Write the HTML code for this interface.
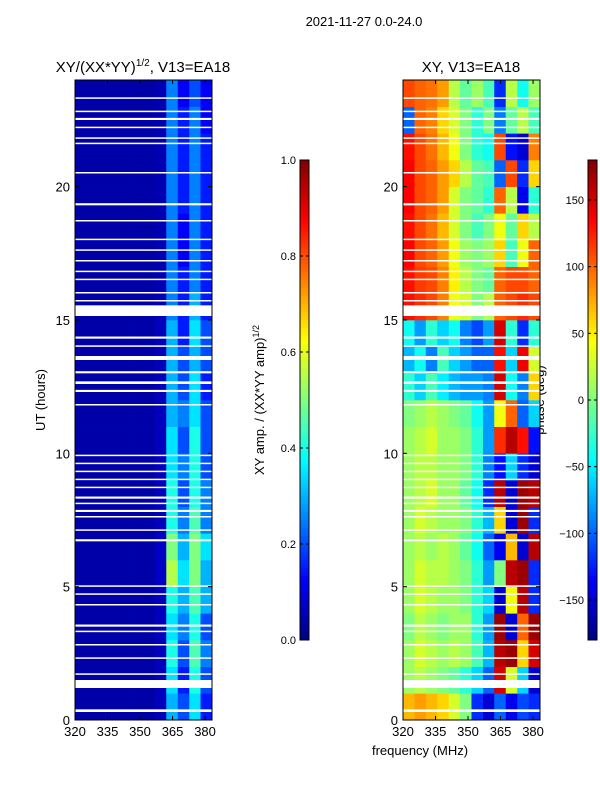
<!DOCTYPE html>
<html><head><meta charset="utf-8"><style>
body{margin:0;background:#fff;}
svg text{font-family:"Liberation Sans",sans-serif;fill:#000;}
</style></head><body>
<svg id="fig" width="600" height="800" xmlns="http://www.w3.org/2000/svg">
<rect width="600" height="800" fill="#fff"/>
<text x="364" y="26" font-size="13" text-anchor="middle">2021-11-27 0.0-24.0</text>
<text x="143" y="72" font-size="15" text-anchor="middle">XY/(XX*YY)<tspan dy="-6" font-size="10">1/2</tspan><tspan dy="6">, V13=EA18</tspan></text>
<text x="471" y="72" font-size="15" text-anchor="middle">XY, V13=EA18</text>
<text x="420" y="755" font-size="13" text-anchor="middle">frequency (MHz)</text>
<text transform="translate(45,400) rotate(-90)" font-size="13" text-anchor="middle">UT (hours)</text>
<text transform="translate(264,400) rotate(-90)" font-size="13" text-anchor="middle">XY amp. / (XX*YY amp)<tspan dy="-5" font-size="9">1/2</tspan></text>
<text transform="translate(544,400) rotate(-90)" font-size="13" text-anchor="middle">phase (deg)</text>
<g id="left"></g>
<g id="right"></g>
<g id="cb"></g>
</svg>
<script>
const freqEdges=[320,325.3,330.5,335.8,341.1,346.3,351.6,356.9,362.1,367.4,372.7,377.9,383.2];
const xTicks=[320,335,350,365,380];
const yTicks=[0,5,10,15,20];
const ampTicks=[0.0,0.2,0.4,0.6,0.8,1.0];
const phaseTicks=[-150,-100,-50,0,50,100,150];
const gaps=[[0.3,0.1],[1.2,0.3],[1.7,0.05],[2.3,0.05],[2.8,0.05],[3.3,0.05],[3.5,0.08],[4.3,0.05],[4.7,0.05],[5.0,0.05],[6.7,0.08],[7.1,0.05],[7.6,0.05],[7.8,0.08],[8.1,0.05],[8.3,0.08],[8.7,0.05],[9.0,0.05],[9.3,0.05],[9.6,0.05],[9.9,0.05],[11.8,0.05],[12.3,0.08],[12.6,0.1],[13.0,0.08],[13.5,0.15],[14.0,0.05],[14.3,0.08],[15.15,0.4],[15.7,0.05],[16.0,0.05],[16.5,0.05],[16.8,0.05],[17.2,0.05],[17.6,0.05],[18.0,0.05],[18.7,0.05],[19.3,0.08],[20.5,0.05],[21.6,0.05],[21.8,0.05],[22.2,0.05],[22.5,0.08],[22.8,0.05],[23.3,0.05]];
const ampRows=[
[0.04,0.04,0.04,0.04,0.04,0.04,0.04,0.06,0.30,0.20,0.35,0.15],
[0.04,0.04,0.04,0.04,0.04,0.04,0.04,0.06,0.35,0.15,0.40,0.20],
[0.04,0.04,0.04,0.04,0.04,0.04,0.04,0.06,0.40,0.20,0.45,0.25],
[0.04,0.04,0.04,0.04,0.04,0.04,0.04,0.06,0.35,0.25,0.40,0.20],
[0.04,0.04,0.04,0.04,0.04,0.04,0.04,0.06,0.40,0.30,0.45,0.30],
[0.04,0.04,0.04,0.04,0.04,0.04,0.04,0.07,0.55,0.35,0.50,0.30],
[0.04,0.04,0.04,0.04,0.04,0.04,0.04,0.07,0.50,0.30,0.50,0.35],
[0.04,0.04,0.04,0.04,0.04,0.04,0.04,0.06,0.40,0.25,0.45,0.25],
[0.04,0.04,0.04,0.04,0.04,0.04,0.04,0.06,0.40,0.20,0.40,0.25],
[0.04,0.04,0.04,0.04,0.04,0.04,0.04,0.06,0.35,0.25,0.40,0.20],
[0.04,0.04,0.04,0.04,0.04,0.04,0.04,0.06,0.35,0.20,0.40,0.20],
[0.04,0.04,0.04,0.04,0.04,0.04,0.04,0.06,0.30,0.25,0.35,0.20],
[0.04,0.04,0.04,0.04,0.04,0.04,0.04,0.06,0.30,0.20,0.35,0.15],
[0.04,0.04,0.04,0.04,0.04,0.04,0.04,0.06,0.30,0.20,0.30,0.20],
[0.04,0.04,0.04,0.04,0.04,0.04,0.04,0.06,0.30,0.15,0.35,0.20],
[0.04,0.04,0.04,0.04,0.04,0.04,0.04,0.06,0.25,0.15,0.30,0.15],
[0.04,0.04,0.04,0.04,0.04,0.04,0.04,0.05,0.25,0.15,0.25,0.15],
[0.04,0.04,0.04,0.04,0.04,0.04,0.04,0.05,0.25,0.12,0.25,0.15],
[0.04,0.04,0.04,0.04,0.04,0.04,0.04,0.05,0.25,0.12,0.25,0.15],
[0.04,0.04,0.04,0.04,0.04,0.04,0.04,0.05,0.25,0.15,0.25,0.15],
[0.04,0.04,0.04,0.04,0.04,0.04,0.04,0.05,0.25,0.15,0.25,0.15],
[0.04,0.04,0.04,0.04,0.04,0.04,0.04,0.05,0.25,0.15,0.25,0.15],
[0.04,0.04,0.04,0.04,0.04,0.04,0.04,0.05,0.25,0.15,0.25,0.12],
[0.04,0.04,0.04,0.04,0.04,0.04,0.04,0.05,0.25,0.12,0.20,0.12]];
const phaseRows=[
[70,80,70,60,30,0,-120,-150,-100,-140,-110,-120],
[10,20,10,0,-10,-30,-60,-100,150,30,-60,-150],
[10,30,20,10,20,10,-20,-70,160,170,60,150],
[0,20,10,0,10,10,-30,-80,170,-150,100,170],
[10,30,20,10,10,0,-30,-60,-150,40,160,-120],
[10,30,20,20,10,0,-30,-80,0,160,170,-120],
[10,20,10,20,10,-10,-40,-100,-140,70,-150,160],
[10,30,20,10,10,0,-30,-70,60,-150,170,-120],
[10,20,30,10,10,-10,-40,-120,160,-150,170,160],
[10,20,20,10,10,0,-30,-90,-130,-60,-120,-150],
[10,20,30,10,10,0,-30,-80,120,160,130,-130],
[0,10,20,10,0,-10,-40,-80,40,100,-100,-60],
[-30,-60,-20,-50,-70,-80,-80,-90,150,-40,-90,60],
[-70,-40,-90,-20,-60,-80,-100,-100,130,-60,140,30],
[-40,-80,-30,-60,-40,-90,-110,-80,150,-30,-120,-30],
[130,120,110,90,40,30,0,20,100,110,120,110],
[130,115,110,90,50,20,0,-10,100,110,110,100],
[135,110,100,80,40,10,0,10,60,-20,40,100],
[130,110,95,70,30,0,-20,0,40,-10,60,20],
[135,110,100,80,30,0,-10,-30,100,20,-140,-30],
[135,110,100,80,60,20,-10,-20,-100,110,-120,60],
[130,110,95,70,40,0,-30,-40,110,-130,-150,90],
[-100,100,90,60,30,0,-30,0,-90,-10,20,-20],
[110,100,95,80,20,-10,10,-20,-120,20,-40,10]];
const NS="http://www.w3.org/2000/svg";
function jet(t){t=Math.max(0,Math.min(1,t));
 const r=Math.max(0,Math.min(1,1.5-Math.abs(4*t-3))),g=Math.max(0,Math.min(1,1.5-Math.abs(4*t-2))),b=Math.max(0,Math.min(1,1.5-Math.abs(4*t-1)));
 return `rgb(${Math.round(r*255)},${Math.round(g*255)},${Math.round(b*255)})`;}
function mk(tag,attrs,parent){const e=document.createElementNS(NS,tag);for(const k in attrs)e.setAttribute(k,attrs[k]);parent.appendChild(e);return e;}
const Y0=720,Y1=80;
function yH(h){return Y0-h*(Y0-Y1)/24;}
function panel(gid,x0,x1,rows,norm,label){
 const g=document.getElementById(gid);
 const xF=f=>x0+(f-320)*(x1-x0)/(383.2-320);
 rows.forEach((row,i)=>row.forEach((v,j)=>{
  const r=mk('rect',{x:xF(freqEdges[j]),y:yH(i+1),width:xF(freqEdges[j+1])-xF(freqEdges[j])+0.3,height:yH(i)-yH(i+1)+0.3,fill:jet(norm(v))},g);
  
  
 }));
 gaps.forEach(gp=>{
  const r=mk('rect',{x:x0,y:yH(gp[0]+gp[1]),width:x1-x0,height:Math.max(1.5,yH(gp[0])-yH(gp[0]+gp[1])),fill:'#fff'},g);
  
  
 });
 const fr=mk('rect',{x:x0,y:Y1,width:x1-x0,height:Y0-Y1,fill:'none',stroke:'#000','stroke-width':1},g);
 
 
 xTicks.forEach(t=>{const x=xF(t);
  mk('line',{x1:x,x2:x,y1:Y0,y2:Y0-4,stroke:'#000'},g);mk('line',{x1:x,x2:x,y1:Y1,y2:Y1+4,stroke:'#000'},g);
  const tx=mk('text',{x:x,y:Y0+16,'font-size':13,'text-anchor':'middle'},g);tx.textContent=t;
  
  });
 yTicks.forEach(t=>{const y=yH(t);
  mk('line',{x1:x0,x2:x0+4,y1:y,y2:y,stroke:'#000'},g);mk('line',{x1:x1,x2:x1-4,y1:y,y2:y,stroke:'#000'},g);
  const tx=mk('text',{x:x0-5,y:y+5,'font-size':13,'text-anchor':'end'},g);tx.textContent=t;
  
  });
}
panel('left',75,212,ampRows,v=>v,'left');
panel('right',403,540,phaseRows,v=>(v+180)/360,'right');
function colorbar(x,lo,hi,ticks,fmt,name){
 const g=document.getElementById('cb');const top=160,bot=640,w=9;
 for(let k=0;k<120;k++){mk('rect',{x:x,y:bot-(k+1)*4,width:w,height:4.3,fill:jet((k+0.5)/120)},g);}
 const fr=mk('rect',{x:x,y:top,width:w,height:bot-top,fill:'none',stroke:'#000'},g);
 
 
 ticks.forEach(t=>{const y=bot-(t-lo)/(hi-lo)*(bot-top);
  mk('line',{x1:x,x2:x+3,y1:y,y2:y,stroke:'#000'},g);mk('line',{x1:x+w,x2:x+w-3,y1:y,y2:y,stroke:'#000'},g);
  const tx=mk('text',{x:x-4,y:y+4,'font-size':11,'text-anchor':'end'},g);tx.textContent=fmt(t);
  
  });
}
colorbar(300,0,1,ampTicks,t=>t.toFixed(1),'amplitude-colorbar');
colorbar(588,-180,180,phaseTicks,t=>(t<0?'\u2212'+(-t):''+t),'phase-colorbar');
</script>
</body></html>
